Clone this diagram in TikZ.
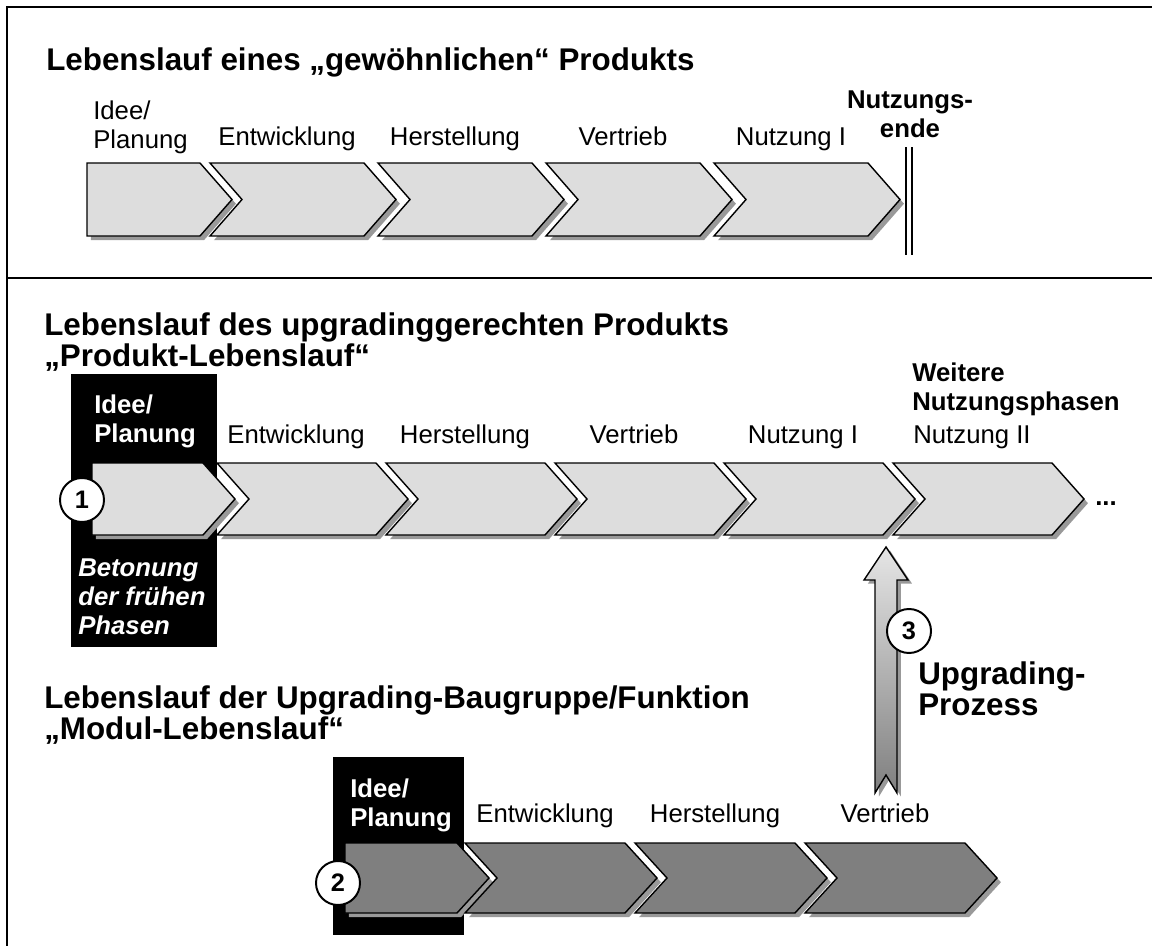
\documentclass[tikz,border=0pt]{standalone}
\usepackage{fontspec}
\setmainfont{Liberation Sans}
\usetikzlibrary{shadows}

\definecolor{phaselight}{HTML}{DDDDDD}
\definecolor{phasedark}{HTML}{7F7F7F}
\definecolor{shadowgray}{HTML}{999999}

\begin{document}
\begin{tikzpicture}[
  x=0.025cm, y=-0.025cm,
  every node/.style={inner sep=0pt},
  headline/.style={font=\fontsize{22.3}{22.7}\selectfont\bfseries, align=left, anchor=north west},
  phaselabel/.style={font=\fontsize{18.3}{20.2}\selectfont, anchor=base},
  boxlabel/.style={font=\fontsize{18.3}{20.2}\selectfont\bfseries, text=white, align=left, anchor=north west},
  phase/.style={draw, line width=1pt, fill=phaselight,
                drop shadow={shadow xshift=2.8pt, shadow yshift=-3pt, fill=shadowgray, opacity=1}},
  module/.style={phase, fill=phasedark},
  marker/.style={circle, draw, line width=1.4pt, fill=white, minimum size=1.1cm,
                 font=\fontsize{18}{20}\selectfont\bfseries}
]
  \useasboundingbox (0,0) rectangle (1152,946);

  % Rahmen
  \draw[line width=1.5pt] (1152,7) -- (7,7) -- (7,946);
  \draw[line width=1.2pt] (7,278) -- (1152,278);

  % gewoehnliches Produkt
  \node[headline] (t1) at (46,47) {Lebenslauf eines „gewöhnlichen“ Produkts};
  \draw[phase] (87,163) -- (200,163) -- (232,199.5) -- (200,236) -- (87,236) -- cycle;
  \foreach \x in {210,378,546,714}
    \draw[phase] (\x,163) -- ++(154,0) -- ++(32,36.5) -- ++(-32,36.5) -- ++(-154,0) -- ++(32,-36.5) -- cycle;
  \node[phaselabel, align=left, anchor=north west] (a1) at (93,101) {Idee/\\Planung};
  \node[phaselabel] (a2) at (287,146) {Entwicklung};
  \node[phaselabel] (a3) at (455,146) {Herstellung};
  \node[phaselabel] (a4) at (623,146) {Vertrieb};
  \node[phaselabel] (a5) at (791,146) {Nutzung I};
  \node[phaselabel, font=\fontsize{18.3}{20.2}\selectfont\bfseries, align=center, anchor=north]
    (ende) at (910,91) {Nutzungs-\\ende};
  \draw[double, double distance=3pt, line width=1pt] (909,147) -- (909,255);

  % Produkt-Lebenslauf
  \node[headline] (t2) at (44,312) {Lebenslauf des upgradinggerechten Produkts\\„Produkt-Lebenslauf“};
  \fill[black] (71,374) rectangle (217,647);
  \draw[phase] (92,463) -- (203,463) -- (235,499) -- (203,535) -- (92,535) -- cycle;
  \foreach \x in {217,386,555,724,893}
    \draw[phase] (\x,463) -- ++(159,0) -- ++(32,36) -- ++(-32,36) -- ++(-159,0) -- ++(32,-36) -- cycle;
  \node[boxlabel] (b1) at (94,395) {Idee/\\Planung};
  \node[phaselabel] (b2) at (296,443) {Entwicklung};
  \node[phaselabel] (b3) at (465,443) {Herstellung};
  \node[phaselabel] (b4) at (634,443) {Vertrieb};
  \node[phaselabel] (b5) at (803,443) {Nutzung I};
  \node[phaselabel] (b6) at (972,443) {Nutzung II};
  \node[phaselabel, font=\fontsize{18.3}{20.2}\selectfont\bfseries, align=left, anchor=north west]
    (weitere) at (912,363) {Weitere\\Nutzungsphasen};
  \node[phaselabel, font=\fontsize{18.3}{20.2}\selectfont\bfseries, anchor=base west] (dots) at (1095,505) {...};
  \node[boxlabel, font=\fontsize{18.3}{20.5}\selectfont\bfseries\itshape] (betonung) at (78,559)
    {Betonung\\der frühen\\Phasen};
  \node[marker] (m1) at (82,500) {1};

  % Modul-Lebenslauf
  \node[headline] (t3) at (44,685) {Lebenslauf der Upgrading-Baugruppe/Funktion\\„Modul-Lebenslauf“};
  \fill[black] (333,757) rectangle (464,935);
  \draw[module] (345,843) -- (457,843) -- (489,878) -- (457,913) -- (345,913) -- cycle;
  \foreach \x in {465,635,805}
    \draw[module] (\x,843) -- ++(160,0) -- ++(32,35) -- ++(-32,35) -- ++(-160,0) -- ++(32,-35) -- cycle;
  \node[boxlabel] (c1) at (350,779) {Idee/\\Planung};
  \node[phaselabel] (c2) at (545,822) {Entwicklung};
  \node[phaselabel] (c3) at (715,822) {Herstellung};
  \node[phaselabel] (c4) at (885,822) {Vertrieb};
  \node[marker] (m2) at (338,883) {2};

  % Upgrading-Prozess
  \draw[line width=1pt, top color=gray!20, bottom color=gray!100,
        drop shadow={shadow xshift=2.8pt, shadow yshift=-2.5pt, fill=shadowgray, opacity=1}]
    (886,547) -- (908,580) -- (897,580) -- (897,793) -- (886,775) -- (875,793) -- (875,580) -- (864,580) -- cycle;
  \node[marker] (m3) at (909,631) {3};
  \node[headline] (upg) at (918,661) {Upgrading-\\Prozess};
\end{tikzpicture}
\end{document}
